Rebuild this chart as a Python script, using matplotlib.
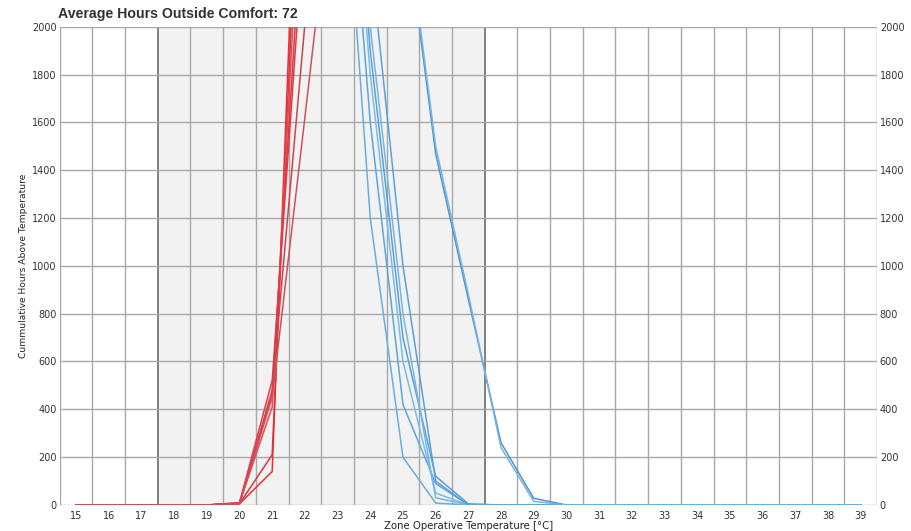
import matplotlib
matplotlib.use("Agg")
import matplotlib.pyplot as plt
import numpy as np

plt.rcParams['font.family'] = ['DejaVu Sans']

# Heating-side curves (temperatures 15..23 °C)
red_temps = [15, 16, 17, 18, 19, 20, 21, 22, 23]
red_series = [
    [0, 0, 0, 0, 0, 5, 140, 3650, 6000],
    [0, 0, 0, 0, 0, 5, 210, 3300, 6000],
    [0, 0, 0, 0, 0, 8, 410, 2930, 6000],
    [0, 0, 0, 0, 0, 8, 470, 2650, 6000],
    [0, 0, 0, 0, 0, 10, 520, 2470, 6000],
    [0, 0, 0, 0, 0, 5, 480, 2010, 3500],
    [0, 0, 0, 0, 0, 5, 450, 1620, 2810],
]

# Cooling-side curves (temperatures 23..39 °C)
blue_temps = [23, 24, 25, 26, 27, 28, 29, 30, 31, 32, 33, 34, 35, 36, 37, 38, 39]
blue_series = [
    [3100, 1200, 200, 8, 0, 0, 0, 0, 0, 0, 0, 0, 0, 0, 0, 0, 0],
    [3300, 1600, 420, 90, 0, 0, 0, 0, 0, 0, 0, 0, 0, 0, 0, 0, 0],
    [3500, 1800, 600, 50, 0, 0, 0, 0, 0, 0, 0, 0, 0, 0, 0, 0, 0],
    [3600, 1900, 700, 120, 5, 0, 0, 0, 0, 0, 0, 0, 0, 0, 0, 0, 0],
    [3800, 2000, 800, 30, 0, 0, 0, 0, 0, 0, 0, 0, 0, 0, 0, 0, 0],
    [4200, 2300, 1000, 100, 0, 0, 0, 0, 0, 0, 0, 0, 0, 0, 0, 0, 0],
    [3600, 3200, 2530, 1470, 860, 260, 28, 0, 0, 0, 0, 0, 0, 0, 0, 0, 0],
    [3600, 3250, 2560, 1500, 880, 240, 15, 0, 0, 0, 0, 0, 0, 0, 0, 0, 0],
]

red_colors = ['#e8303a', '#d9353f', '#e84a52', '#d63a44', '#e53b45', '#c9464e', '#d0505a']
blue_colors = ['#6aaee0', '#5aa6df', '#7bbbe8', '#5d9fd4', '#76b6e6', '#5aa2da', '#4f93cc', '#74b3e3']

x_ticks = list(range(15, 40))
y_ticks = list(range(0, 2001, 200))
comfort_band = (17.5, 27.5)

fig = plt.figure(figsize=(9.11, 5.31), dpi=100)
ax = fig.add_axes([0.0655, 0.049, 0.8972, 0.9007])

ax.axvspan(*comfort_band, color='#f2f2f2', zorder=0)

# Grid on half-degree boundaries and every 200 hours
for xv in np.arange(14.5, 39.6, 1.0):
    dark = xv in comfort_band
    ax.axvline(xv, color='#808080' if dark else '#a8a8a8', lw=1.4 if dark else 1.0, zorder=1)
for yv in y_ticks:
    ax.axhline(yv, color='#a8a8a8', lw=1.0, zorder=1)

for vals, c in zip(red_series, red_colors):
    ax.plot(red_temps, vals, color=c, lw=1.1, zorder=3)
for vals, c in zip(blue_series, blue_colors):
    ax.plot(blue_temps, vals, color=c, lw=1.1, zorder=3)

ax.set_xlim(14.5, 39.5)
ax.set_ylim(0, 2000)
ax.set_xticks(x_ticks)
ax.set_xticklabels([str(t) for t in x_ticks])
ax.set_yticks(y_ticks)
ax.tick_params(axis='both', length=0, labelsize=7, colors='#333333')
ax.tick_params(axis='x', pad=4)
ax.tick_params(axis='y', labelright=True, right=False, pad=2)
for s in ax.spines.values():
    s.set_visible(False)

ax.set_xlabel('Zone Operative Temperature [°C]', fontsize=7.3, color='#222222', labelpad=0)
ax.set_ylabel('Cummulative Hours Above Temperature', fontsize=6.6, color='#222222', labelpad=3)

fig.text(0.064, 0.974, 'Average Hours Outside Comfort: 72', fontsize=10.2, fontweight='bold',
         color='#333333', ha='left', va='center', family=['Liberation Sans', 'DejaVu Sans'])

fig.savefig('out.png', dpi=100, facecolor='white')
